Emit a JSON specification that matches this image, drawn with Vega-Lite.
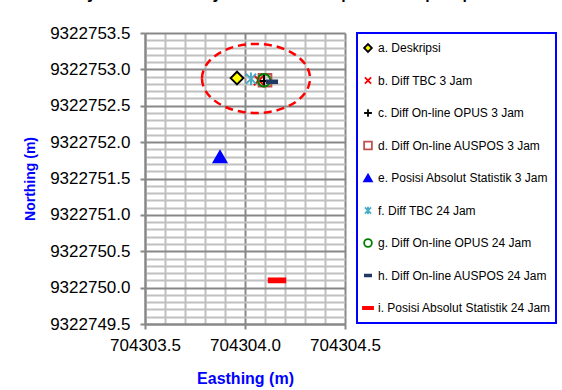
{
  "$schema": "https://vega.github.io/schema/vega-lite/v6.json",
  "width": 200,
  "height": 291,
  "autosize": "none",
  "padding": {"left": 145, "top": 33, "right": 217, "bottom": 66},
  "background": "white",
  "title": {
    "text": "3 jam dan 24 jam terhadap deskripsi pilar",
    "font": "Liberation Sans",
    "fontSize": 24,
    "fontWeight": "normal",
    "color": "black",
    "anchor": "middle",
    "frame": "group",
    "baseline": "alphabetic",
    "offset": 3.5,
    "dx": 43
  },
  "config": {
    "view": {"stroke": null},
    "axis": {
      "labelFont": "Liberation Sans",
      "labelFontSize": 17,
      "labelColor": "black",
      "labelFlush": false,
      "labelOverlap": false,
      "titleFont": "Liberation Sans",
      "titleColor": "#0000ff",
      "titleFontWeight": "bold",
      "domainColor": "#888888",
      "domainWidth": 2,
      "tickColor": "#888888",
      "tickWidth": 2,
      "tickSize": 5
    },
    "legend": {
      "labelFont": "Liberation Sans",
      "labelFontSize": 12,
      "labelColor": "black",
      "strokeWidth": 2
    }
  },
  "datasets": {
    "pts": [
      {"series": "a. Deskripsi", "E": 704303.96, "N": 9322752.88},
      {"series": "b. Diff TBC 3 Jam", "E": 704304.07, "N": 9322752.85},
      {"series": "c. Diff On-line OPUS 3 Jam", "E": 704304.095, "N": 9322752.84},
      {"series": "d. Diff On-line AUSPOS 3 Jam", "E": 704304.1, "N": 9322752.85},
      {"series": "e. Posisi Absolut Statistik 3 Jam", "E": 704303.875, "N": 9322751.8},
      {"series": "f. Diff TBC 24 Jam", "E": 704304.03, "N": 9322752.87},
      {"series": "g. Diff On-line OPUS 24 Jam", "E": 704304.095, "N": 9322752.85},
      {"series": "h. Diff On-line AUSPOS 24 Jam", "E": 704304.135, "N": 9322752.83},
      {"series": "i. Posisi Absolut Statistik 24 Jam", "E": 704304.16, "N": 9322750.1}
    ],
    "ellipse": [
      {"E": 704304.055, "N": 9322752.875}
    ]
  },
  "resolve": {"axis": {"x": "independent", "y": "independent"}},
  "layer": [
    {
      "data": {"name": "ellipse"},
      "mark": {
        "type": "point",
        "shape": "M -1 0 A 1 0.64 0 1 0 1 0 A 1 0.64 0 1 0 -1 0",
        "size": 11664,
        "filled": false,
        "fill": "transparent",
        "stroke": "#ff0000",
        "strokeWidth": 2.5,
        "strokeDash": [8, 5],
        "opacity": 1
      },
      "encoding": {
        "x": {
          "field": "E", "type": "quantitative",
          "scale": {"domain": [704303.5, 704304.5], "zero": false, "nice": false},
          "axis": {
            "orient": "bottom",
            "values": [704303.6, 704303.7, 704303.8, 704303.9, 704304.1, 704304.2, 704304.3, 704304.4],
            "grid": true, "gridColor": "#c0c0c0", "gridWidth": 2,
            "labels": false, "ticks": false, "domain": false, "title": null
          }
        },
        "y": {
          "field": "N", "type": "quantitative",
          "scale": {"domain": [9322749.5, 9322753.5], "zero": false, "nice": false},
          "axis": {
            "orient": "left",
            "values": [9322749.6, 9322749.7, 9322749.8, 9322749.9, 9322750.1, 9322750.2, 9322750.3, 9322750.4, 9322750.6, 9322750.7, 9322750.8, 9322750.9, 9322751.1, 9322751.2, 9322751.3, 9322751.4, 9322751.6, 9322751.7, 9322751.8, 9322751.9, 9322752.1, 9322752.2, 9322752.3, 9322752.4, 9322752.6, 9322752.7, 9322752.8, 9322752.9, 9322753.1, 9322753.2, 9322753.3, 9322753.4],
            "grid": true, "gridColor": "#c0c0c0", "gridWidth": 2,
            "labels": false, "ticks": false, "domain": false, "title": null
          }
        }
      }
    },
    {
      "data": {"name": "pts"},
      "mark": {"type": "point", "size": 160, "strokeWidth": 2, "opacity": 1},
      "encoding": {
        "x": {
          "field": "E", "type": "quantitative",
          "scale": {"domain": [704303.5, 704304.5], "zero": false, "nice": false},
          "axis": {
            "orient": "bottom",
            "values": [704303.5, 704304.0, 704304.5],
            "format": ".1f",
            "grid": true, "gridColor": "#888888", "gridWidth": 2,
            "labelPadding": 8,
            "title": "Easthing (m)", "titleFontSize": 16, "titlePadding": 17
          }
        },
        "y": {
          "field": "N", "type": "quantitative",
          "scale": {"domain": [9322749.5, 9322753.5], "zero": false, "nice": false},
          "axis": {
            "orient": "left",
            "values": [9322749.5, 9322750.0, 9322750.5, 9322751.0, 9322751.5, 9322752.0, 9322752.5, 9322753.0, 9322753.5],
            "format": ".1f",
            "grid": true, "gridColor": "#888888", "gridWidth": 2,
            "labelPadding": 10,
            "title": "Northing (m)", "titleFontSize": 14, "titlePadding": 12
          }
        },
        "shape": {
          "field": "series", "type": "nominal",
          "scale": {
            "domain": ["a. Deskripsi", "b. Diff TBC 3 Jam", "c. Diff On-line OPUS 3 Jam", "d. Diff On-line AUSPOS 3 Jam", "e. Posisi Absolut Statistik 3 Jam", "f. Diff TBC 24 Jam", "g. Diff On-line OPUS 24 Jam", "h. Diff On-line AUSPOS 24 Jam", "i. Posisi Absolut Statistik 24 Jam"],
            "range": ["diamond", "M-0.8,-0.8L0.8,0.8M-0.8,0.8L0.8,-0.8", "M-1,0L1,0M0,-1L0,1", "square", "triangle-up", "M-0.8,-0.8L0.8,0.8M-0.8,0.8L0.8,-0.8M0,-1L0,1", "circle", "M-0.8,-0.2H0.8V0.2H-0.8Z", "M-1.3,-0.3H1.3V0.3H-1.3Z"]
          },
          "legend": {
            "title": null, "orient": "none", "legendX": 212, "legendY": 0,
            "strokeColor": "#0000ff", "padding": 5,
            "symbolSize": 60, "symbolStrokeWidth": 1.8,
            "clipHeight": 20, "rowPadding": 12.5, "labelOffset": 4,
            "labelLimit": 300
          }
        },
        "fill": {
          "field": "series", "type": "nominal",
          "scale": {
            "domain": ["a. Deskripsi", "b. Diff TBC 3 Jam", "c. Diff On-line OPUS 3 Jam", "d. Diff On-line AUSPOS 3 Jam", "e. Posisi Absolut Statistik 3 Jam", "f. Diff TBC 24 Jam", "g. Diff On-line OPUS 24 Jam", "h. Diff On-line AUSPOS 24 Jam", "i. Posisi Absolut Statistik 24 Jam"],
            "range": ["#ffff00", "transparent", "transparent", "transparent", "#0000ff", "transparent", "transparent", "#1f3864", "#ff0000"]
          },
          "legend": {
            "title": null, "orient": "none", "legendX": 212, "legendY": 0,
            "strokeColor": "#0000ff", "padding": 5,
            "symbolSize": 60, "symbolStrokeWidth": 1.8,
            "clipHeight": 20, "rowPadding": 12.5, "labelOffset": 4,
            "labelLimit": 300
          }
        },
        "stroke": {
          "field": "series", "type": "nominal",
          "scale": {
            "domain": ["a. Deskripsi", "b. Diff TBC 3 Jam", "c. Diff On-line OPUS 3 Jam", "d. Diff On-line AUSPOS 3 Jam", "e. Posisi Absolut Statistik 3 Jam", "f. Diff TBC 24 Jam", "g. Diff On-line OPUS 24 Jam", "h. Diff On-line AUSPOS 24 Jam", "i. Posisi Absolut Statistik 24 Jam"],
            "range": ["#000000", "#ff0000", "#000000", "#c0504d", "#0000ff", "#4bacc6", "#008000", "#1f3864", "#ff0000"]
          },
          "legend": {
            "title": null, "orient": "none", "legendX": 212, "legendY": 0,
            "strokeColor": "#0000ff", "padding": 5,
            "symbolSize": 60, "symbolStrokeWidth": 1.8,
            "clipHeight": 20, "rowPadding": 12.5, "labelOffset": 4,
            "labelLimit": 300
          }
        }
      }
    }
  ]
}
